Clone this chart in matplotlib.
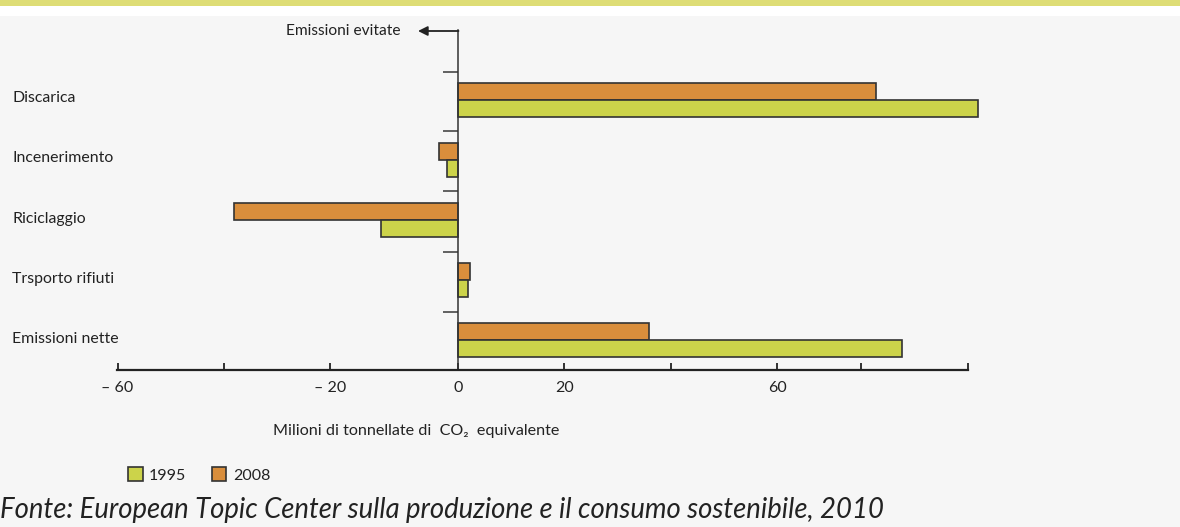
import matplotlib.pyplot as plt
from matplotlib.patches import Patch, Rectangle

plt.rcParams['font.family'] = ['Lato', 'DejaVu Sans']

categories = ['Discarica', 'Incenerimento', 'Riciclaggio', 'Trsporto rifiuti', 'Emissioni nette']
val_1995 = [97.7, -2.0, -14.5, 1.9, 83.5]
val_2008 = [78.6, -3.6, -42.1, 2.3, 35.9]

# the original axis is drawn a bit off: tick marks and labels as they appear
tick_pos = [-64, -44, -24, 0, 20, 40, 60, 75.8, 95.9]
tick_lab = ['\u2013 60', '', '\u2013 20', '0', '20', '', '60', '', '']

green = '#ccd34a'
orange = '#d98e3c'
edge = '#333333'
txt = '#222222'

fig = plt.figure(figsize=(11.8, 5.27), dpi=100, facecolor='#f6f6f6')
# top band
fig.patches.append(Rectangle((0, 1 - 16 / 527), 1, 16 / 527, transform=fig.transFigure,
                             facecolor='white', edgecolor='none', zorder=0))
fig.patches.append(Rectangle((0, 1 - 6 / 527), 1, 6 / 527, transform=fig.transFigure,
                             facecolor='#dedd76', edgecolor='none', zorder=1))

ax = fig.add_axes([117 / 1180, 1 - 370 / 527, (968 - 117) / 1180, 340 / 527])
ax.set_facecolor('none')

y = list(range(len(categories)))
h = 0.28
ax.barh([i - h / 2 for i in y], val_2008, height=h, color=orange, edgecolor=edge,
        linewidth=1.2, label='2008', clip_on=False)
ax.barh([i + h / 2 for i in y], val_1995, height=h, color=green, edgecolor=edge,
        linewidth=1.2, label='1995', clip_on=False)

ax.set_xlim(-64.1, 95.9)
ax.set_ylim(4.5, -1.17)

ax.spines['top'].set_visible(False)
ax.spines['right'].set_visible(False)
ax.spines['left'].set_position(('data', 0))
ax.spines['left'].set_color('#333333')
ax.spines['left'].set_linewidth(1.1)
ax.spines['bottom'].set_linewidth(1.6)
ax.spines['bottom'].set_color('#222222')

ax.set_xticks(tick_pos)
ax.set_xticklabels(tick_lab, fontsize=11.5, color=txt)
ax.tick_params(axis='x', direction='in', length=5, width=1.3, color='#222222', pad=8)

ax.set_yticks([-0.47, 0.52, 1.52, 2.53, 3.53])
ax.set_yticklabels([])
ax.tick_params(axis='y', direction='out', length=11, width=1.3, color='#555555')

for i, c in enumerate(categories):
    fig.text(12 / 1180, 1 - (98 + 60.3 * i) / 527, c,
             fontsize=11.4, color=txt, va='center', ha='left')

# arrow "Emissioni evitate"
ax.annotate('', xy=(418 / 1180, 1 - 31 / 527), xytext=(458.5 / 1180, 1 - 31 / 527),
            xycoords='figure fraction', textcoords='figure fraction',
            arrowprops=dict(arrowstyle='-|>', color='#222222', lw=1.3, mutation_scale=14,
                            shrinkA=0, shrinkB=0))
fig.text(400 / 1180, 1 - 31 / 527, 'Emissioni evitate', fontsize=11.2, color=txt,
         ha='right', va='center')

fig.text(416 / 1180, 1 - 431 / 527, 'Milioni di tonnellate di  CO\u2082  equivalente',
         fontsize=11.6, color=txt, ha='center', va='center')

handles = [Patch(facecolor=green, edgecolor=edge, linewidth=1.2, label='1995'),
           Patch(facecolor=orange, edgecolor=edge, linewidth=1.2, label='2008')]
leg = fig.legend(handles=handles, loc='center left', bbox_to_anchor=(114 / 1180, 1 - 475 / 527),
                 ncol=2, frameon=False, handlelength=0.9, handleheight=0.9,
                 handletextpad=0.4, columnspacing=1.6, fontsize=11.5)
for t in leg.get_texts():
    t.set_color(txt)

fig.text(0, 1 - 510 / 527,
         'Fonte: European Topic Center sulla produzione e il consumo sostenibile, 2010',
         fontsize=19.8, style='italic', color='#222222', ha='left', va='center')

fig.savefig('out.png', dpi=100, facecolor=fig.get_facecolor())
